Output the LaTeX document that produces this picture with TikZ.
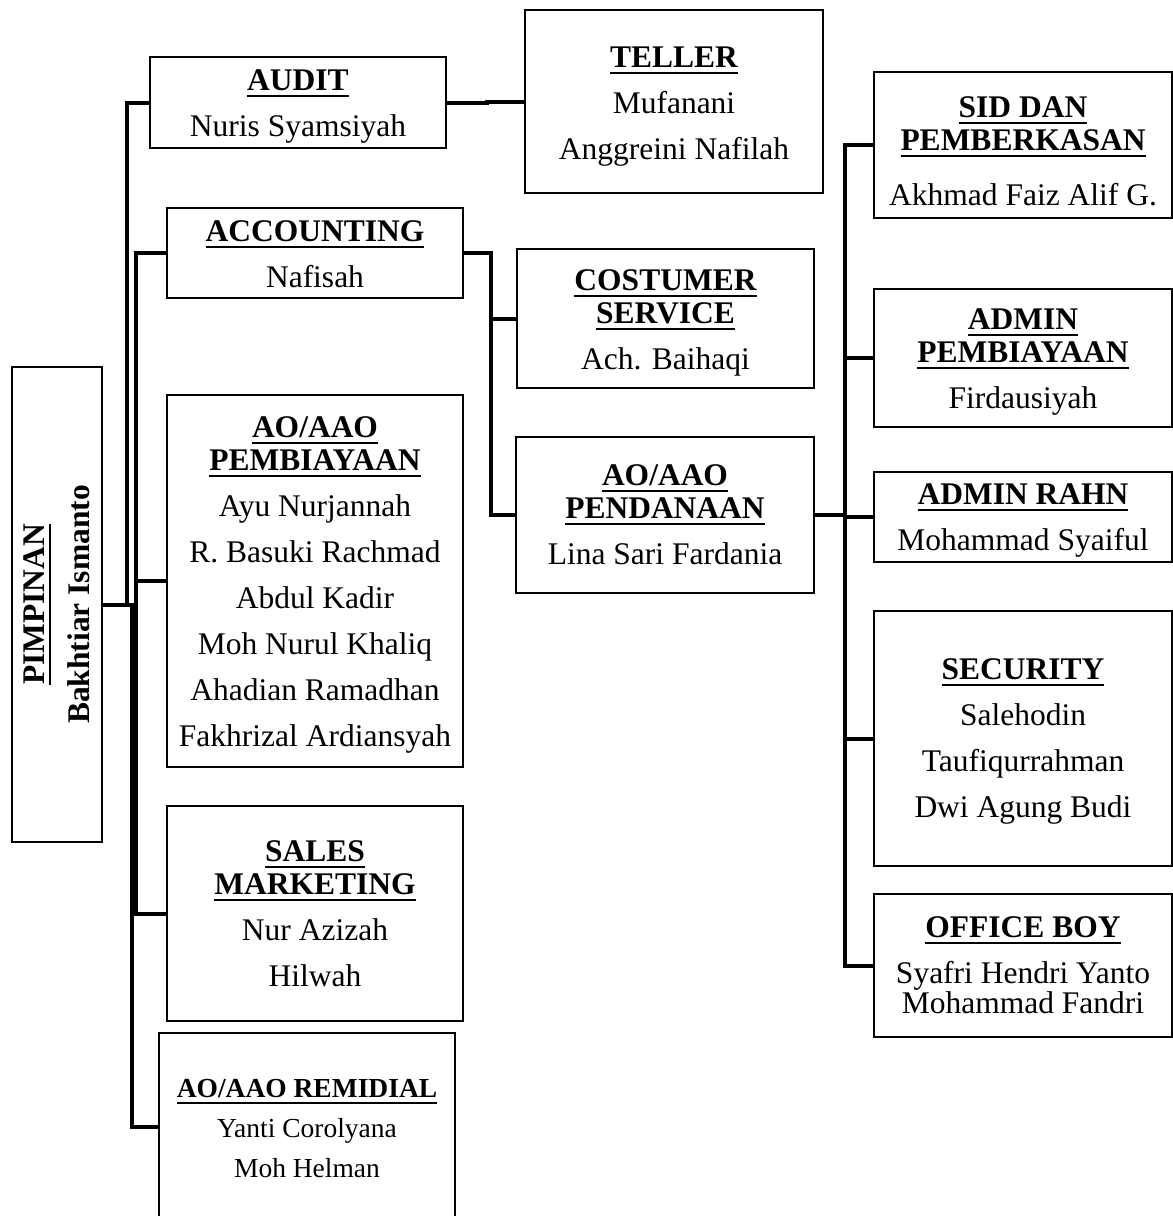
\documentclass[tikz,border=0pt]{standalone}
\usepackage{fontspec}
\setmainfont{Liberation Serif}

\newsavebox{\hdbox}
\newcommand{\hdline}[1]{\sbox{\hdbox}{\bfseries #1}\rlap{\rule[-6.5pt]{\wd\hdbox}{2pt}}\usebox{\hdbox}}

\begin{document}
\begin{tikzpicture}[
  x=1pt, y=-1pt,
  unitbox/.style={draw, line width=1.2pt, inner sep=0pt, minimum width=296pt},
  unittext/.style={align=center, inner sep=0pt, font=\fontsize{31.5}{46}\selectfont},
  smalltext/.style={unittext, font=\fontsize{27.5}{40}\selectfont},
  conn/.style={draw, line width=4pt},
]
\useasboundingbox (0,0) rectangle (1173,1216);

% --- Pimpinan (teks diputar) ---
\node[unitbox, minimum width=90pt, minimum height=475pt,
  label={[unittext, rotate=90, font=\fontsize{31.5}{45}\selectfont\bfseries]center:{\hdline{PIMPINAN}\\Bakhtiar Ismanto}}]
  (pimpinan) at (57,604.5) {};

% --- Kolom kiri ---
\node[unitbox, minimum height=91pt,
  label={[unittext, yshift=-4pt]center:{\hdline{AUDIT}\\Nuris Syamsiyah}}]
  (audit) at (298,102.5) {};
\node[unitbox, minimum height=90pt,
  label={[unittext, yshift=-1pt]center:{\hdline{ACCOUNTING}\\Nafisah}}]
  (accounting) at (315,253) {};
\node[unitbox, minimum height=372pt,
  label={[unittext, yshift=-4pt]center:{\hdline{AO/AAO}\\[-13pt]\hdline{PEMBIAYAAN}\\Ayu Nurjannah\\R. Basuki Rachmad\\Abdul Kadir\\Moh Nurul Khaliq\\Ahadian Ramadhan\\Fakhrizal Ardiansyah}}]
  (aopemb) at (315,581) {};
\node[unitbox, minimum height=215pt,
  label={[unittext]center:{\hdline{SALES}\\[-13pt]\hdline{MARKETING}\\Nur Azizah\\Hilwah}}]
  (sales) at (315,913.5) {};
\node[unitbox, minimum height=188pt,
  label={[smalltext, yshift=-2pt]center:{\hdline{AO/AAO REMIDIAL}\\Yanti Corolyana\\Moh Helman}}]
  (remidial) at (307,1127) {};

% --- Kolom tengah ---
\node[unitbox, minimum width=298pt, minimum height=183pt,
  label={[unittext, yshift=-5pt]center:{\hdline{TELLER}\\Mufanani\\Anggreini Nafilah}}]
  (teller) at (674,101.5) {};
\node[unitbox, minimum width=297pt, minimum height=139pt,
  label={[unittext, yshift=-4.5pt]center:{\hdline{COSTUMER}\\[-13pt]\hdline{SERVICE}\\Ach. Baihaqi}}]
  (cs) at (665.5,318.5) {};
\node[unitbox, minimum width=298pt, minimum height=156pt,
  label={[unittext]center:{\hdline{AO/AAO}\\[-13pt]\hdline{PENDANAAN}\\Lina Sari Fardania}}]
  (aopend) at (665,515) {};

% --- Kolom kanan ---
\node[unitbox, minimum width=298pt, minimum height=146pt,
  label={[unittext, yshift=-6pt]center:{\hdline{SID DAN}\\[-13pt]\hdline{PEMBERKASAN}\\[9pt]Akhmad Faiz Alif G.}}]
  (sid) at (1023,145) {};
\node[unitbox, minimum width=298pt, minimum height=138pt,
  label={[unittext, yshift=-3.5pt]center:{\hdline{ADMIN}\\[-13pt]\hdline{PEMBIAYAAN}\\Firdausiyah}}]
  (adminpemb) at (1023,358) {};
\node[unitbox, minimum width=298pt, minimum height=90pt,
  label={[unittext, yshift=-3.5pt]center:{\hdline{ADMIN RAHN}\\Mohammad Syaiful}}]
  (rahn) at (1023,517) {};
\node[unitbox, minimum width=298pt, minimum height=255pt,
  label={[unittext, yshift=-3pt]center:{\hdline{SECURITY}\\Salehodin\\Taufiqurrahman\\Dwi Agung Budi}}]
  (security) at (1023,738.5) {};
\node[unitbox, minimum width=298pt, minimum height=143pt,
  label={[unittext]center:{\hdline{OFFICE BOY}\\Syafri Hendri Yanto\\[-16pt]Mohammad Fandri}}]
  (officeboy) at (1023,965.5) {};

% --- Garis dari pimpinan ---
\draw[conn] (pimpinan.east) -- ++(24,0) |- (audit.west);
\draw[conn] (pimpinan.east) -- ++(33,0) |- (accounting.west);
\draw[conn] (pimpinan.east) -- ++(33,0) |- (aopemb.west);
\draw[conn] (pimpinan.east) -- ++(33,0) |- (sales.west);
\draw[conn] (pimpinan.east) -- ++(29,0) |- (remidial.west);

% --- Garis kolom tengah ---
\draw[conn] (audit.east) -- ++(40,0) |- (teller.west);
\draw[conn] (accounting.east) -- ++(27,0) |- (cs.west);
\draw[conn] (accounting.east) -- ++(27,0) |- (aopend.west);

% --- Garis ke kolom kanan ---
\foreach \unit in {sid,adminpemb,rahn,security,officeboy}
  \draw[conn] (aopend.east) -- ++(30,0) |- (\unit.west);

\end{tikzpicture}
\end{document}
